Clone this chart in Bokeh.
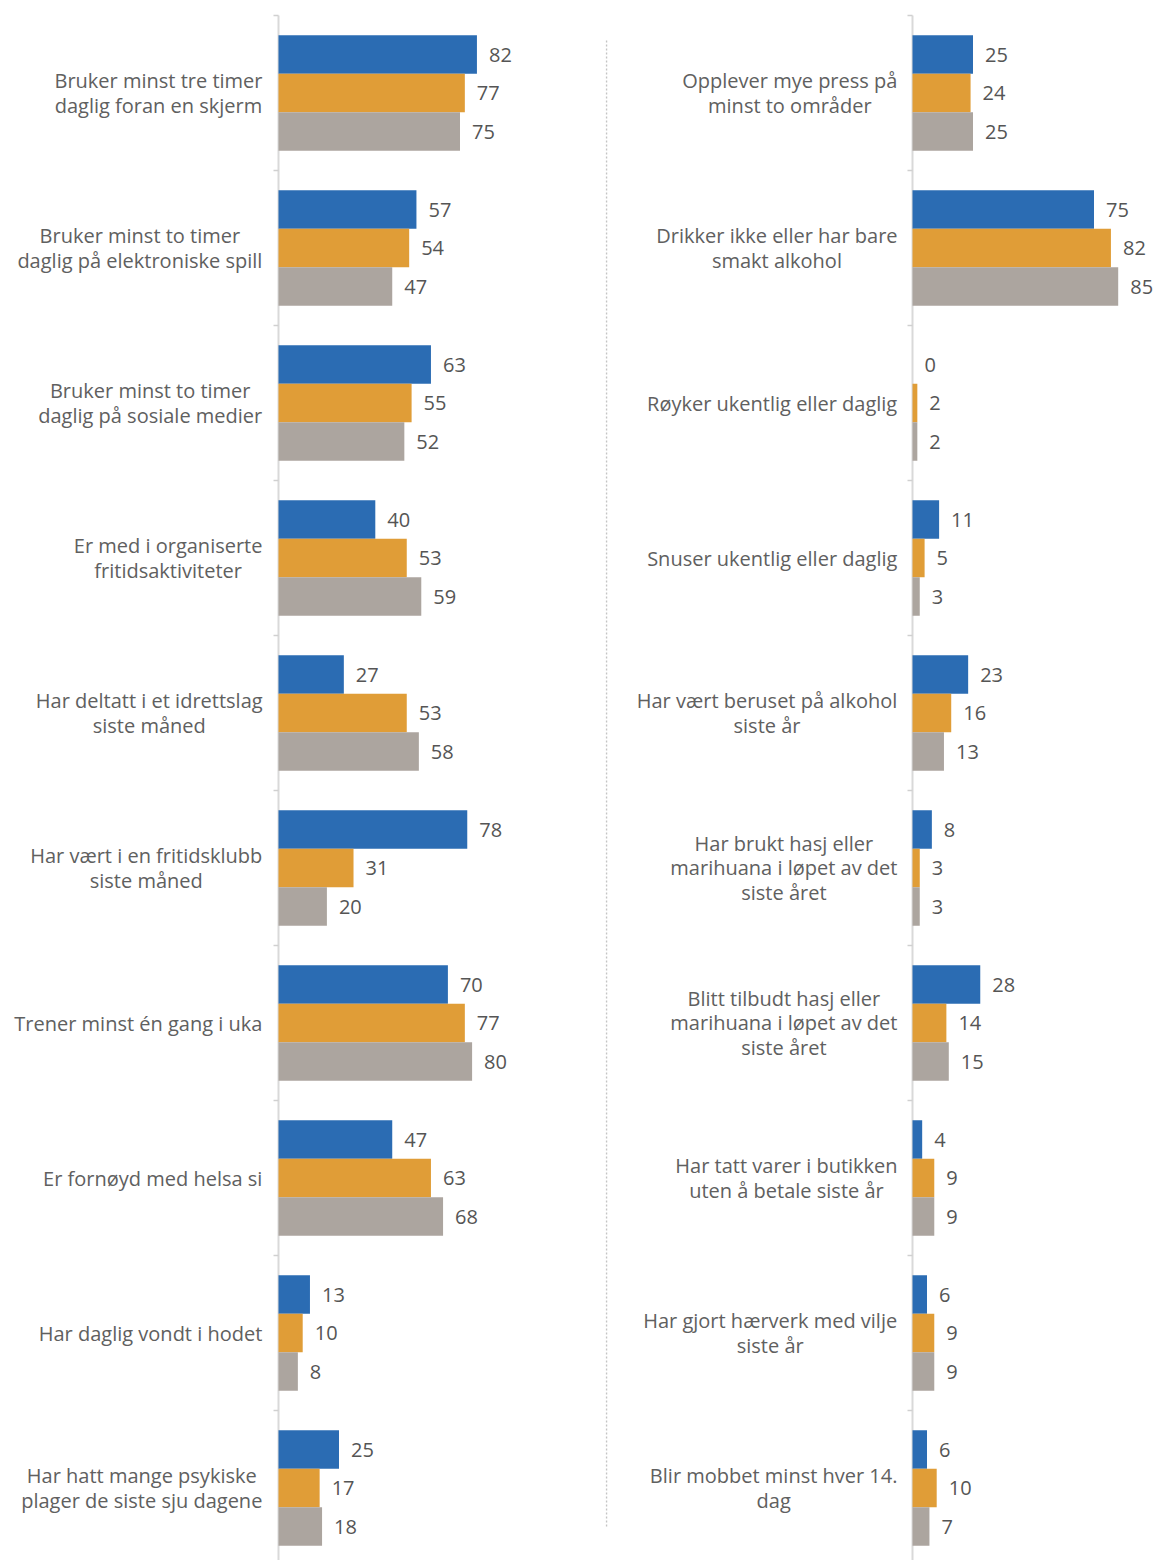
from bokeh.plotting import figure
from bokeh.models import Range1d, ColumnDataSource
from bokeh.layouts import row
from bokeh.embed import file_html
from bokeh.resources import INLINE
from bokeh.core.properties import value

# ---------------- data ----------------
left_categories = [
    "Bruker minst tre timer\ndaglig foran en skjerm",
    "Bruker minst to timer\ndaglig på elektroniske spill",
    "Bruker minst to timer\ndaglig på sosiale medier",
    "Er med i organiserte\nfritidsaktiviteter",
    "Har deltatt i et idrettslag\nsiste måned",
    "Har vært i en fritidsklubb\nsiste måned",
    "Trener minst én gang i uka",
    "Er fornøyd med helsa si",
    "Har daglig vondt i hodet",
    "Har hatt mange psykiske\nplager de siste sju dagene",
]
left_blue = [82, 57, 63, 40, 27, 78, 70, 47, 13, 25]
left_orange = [77, 54, 55, 53, 53, 31, 77, 63, 10, 17]
left_gray = [75, 47, 52, 59, 58, 20, 80, 68, 8, 18]

right_categories = [
    "Opplever mye press på\nminst to områder",
    "Drikker ikke eller har bare\nsmakt alkohol",
    "Røyker ukentlig eller daglig",
    "Snuser ukentlig eller daglig",
    "Har vært beruset på alkohol\nsiste år",
    "Har brukt hasj eller\nmarihuana i løpet av det\nsiste året",
    "Blitt tilbudt hasj eller\nmarihuana i løpet av det\nsiste året",
    "Har tatt varer i butikken\nuten å betale siste år",
    "Har gjort hærverk med vilje\nsiste år",
    "Blir mobbet minst hver 14.\ndag",
]
right_blue = [25, 75, 0, 11, 23, 8, 28, 4, 6, 6]
right_orange = [24, 82, 2, 5, 16, 3, 14, 9, 9, 10]
right_gray = [25, 85, 2, 3, 13, 3, 15, 9, 9, 7]

# ---------------- style ----------------
COLORS = ["#2b6cb3", "#e09d37", "#aca59f"]
FONT = "Open Sans"
LABEL_SIZE = 20
NUM_SIZE = 20
SCALE = 2.42          # px per percent
SLOT = 155.0          # px per category
BAR_H = 38.5 / SLOT
HEIGHT = 1560
CENTER0 = 92.5        # px of first category centre from the top
Y_TOP = (0 - CENTER0) / SLOT
Y_BOTTOM = (HEIGHT - CENTER0) / SLOT

# approximate Open Sans advance widths (em) for centring multi-line labels
W = {' ': .26, 'a': .556, 'b': .613, 'c': .476, 'd': .613, 'e': .561, 'f': .339,
     'g': .548, 'h': .614, 'i': .253, 'j': .253, 'k': .525, 'l': .253, 'm': .93,
     'n': .614, 'o': .604, 'p': .613, 'q': .613, 'r': .408, 's': .477, 't': .353,
     'u': .614, 'v': .501, 'w': .778, 'x': .524, 'y': .502, 'z': .457, 'å': .556,
     'æ': .88, 'ø': .604, 'é': .561, 'B': .633, 'D': .722, 'E': .549, 'H': .738,
     'O': .779, 'R': .627, 'S': .539, 'T': .548, '.': .266}


def text_width(s, size):
    return max(sum(W.get(c, .572) for c in line) for line in s.split("\n")) * size


def panel(categories, series, width, axis_px, gap, divider=False):
    n = len(categories)
    p = figure(width=width, height=HEIGHT,
               x_range=Range1d(-axis_px / SCALE, (width - axis_px) / SCALE),
               y_range=Range1d(Y_BOTTOM, Y_TOP),
               output_backend="svg", toolbar_location=None,
               x_axis_location=None, y_axis_location=None,
               min_border=0, min_border_left=0, min_border_right=0,
               min_border_top=0, min_border_bottom=0)
    p.outline_line_color = None
    p.xgrid.visible = False
    p.ygrid.visible = False
    p.background_fill_color = "white"
    p.border_fill_color = "white"

    # axis line and ticks
    p.segment(x0=[0], y0=[-0.5], x1=[0], y1=[n + 1], line_color="#d9d9d9", line_width=2)
    bounds = [i - 0.5 for i in range(n + 1)]
    p.segment(x0=[-5 / SCALE] * len(bounds), x1=[0] * len(bounds), y0=bounds, y1=bounds,
              line_color="#d0d0d0", line_width=1.5)

    for j, (vals, color) in enumerate(zip(series, COLORS)):
        ys = [i + (j - 1) * BAR_H for i in range(n)]
        src = ColumnDataSource(dict(y=ys, v=vals, t=[str(v) for v in vals]))
        p.hbar(y="y", left=0, right="v", height=BAR_H, fill_color=color,
               line_color=None, source=src)
        p.text(x="v", y="y", text="t", x_offset=12, text_align="left",
               text_baseline="middle", text_font=value(FONT),
               text_font_size=f"{NUM_SIZE}px", text_color="#555555", source=src)

    offs = [-(gap + text_width(c, LABEL_SIZE) / 2) for c in categories]
    lsrc = ColumnDataSource(dict(x=[0] * n, y=list(range(n)), t=categories, o=offs))
    p.text(x="x", y="y", text="t", x_offset="o", text_align="center",
           text_baseline="middle", text_font=value(FONT),
           text_font_size=f"{LABEL_SIZE}px", text_color="#606060",
           text_line_height=0.9, source=lsrc)

    if divider:
        xd = (1 - axis_px) / SCALE
        p.segment(x0=[xd], x1=[xd], y0=[(40 - CENTER0) / SLOT], y1=[(1527 - CENTER0) / SLOT],
                  line_color="#c4c4c4", line_width=1.5, line_dash="2 2")
    return p


left = panel(left_categories, [left_blue, left_orange, left_gray], 605, 278, 16)
right = panel(right_categories, [right_blue, right_orange, right_gray], 556, 307, 15,
              divider=True)

layout = row(left, right, spacing=0)
open("out.html", "w").write(file_html(layout, INLINE))
